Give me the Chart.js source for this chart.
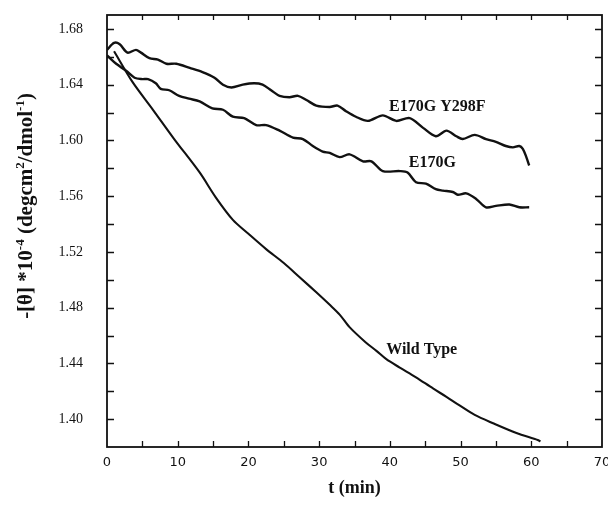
<!DOCTYPE html>
<html>
<head>
<meta charset="utf-8">
<script src="https://cdn.jsdelivr.net/npm/chart.js@4/dist/chart.umd.min.js"></script>
<style>
  html, body { margin: 0; padding: 0; background: #fff; }
  #wrap { width: 608px; height: 520px; }
</style>
</head>
<body>
<div id="wrap"><canvas id="cd"></canvas></div>
<script>
// Ellipticity decay at 222 nm, three enzyme variants
const mutant2Time = [0, 1.0, 1.8, 2.9, 4.1, 4.8, 6.0, 7.2, 8.4, 9.8, 11.7, 13.5, 15.2, 16.4, 17.6, 19.2, 20.8, 22.0, 23.2, 24.4, 25.8, 27.0, 28.2, 29.6, 31.5, 32.6, 33.8, 35.2, 36.9, 39.0, 40.9, 42.8, 44.7, 46.5, 48.0, 49.4, 50.3, 52.0, 53.6, 55.0, 56.4, 57.4, 58.3, 58.8, 59.3, 59.7];
const mutant2Theta = [1.665, 1.670, 1.669, 1.663, 1.665, 1.663, 1.659, 1.658, 1.655, 1.655, 1.652, 1.649, 1.645, 1.640, 1.638, 1.640, 1.641, 1.640, 1.636, 1.632, 1.631, 1.632, 1.629, 1.625, 1.624, 1.625, 1.621, 1.617, 1.614, 1.618, 1.614, 1.616, 1.609, 1.603, 1.607, 1.603, 1.601, 1.604, 1.601, 1.599, 1.596, 1.595, 1.596, 1.594, 1.588, 1.582];

const mutant1Time = [0, 1.3, 2.7, 3.9, 5.0, 5.8, 6.9, 7.6, 8.8, 10.2, 11.6, 13.1, 14.9, 16.4, 17.8, 19.4, 21.1, 22.5, 24.4, 26.3, 27.7, 29.1, 30.5, 31.5, 32.9, 34.3, 36.2, 37.4, 39.0, 41.4, 42.5, 43.7, 45.1, 46.5, 47.5, 48.9, 49.6, 50.8, 52.2, 53.6, 55.0, 56.9, 58.3, 59.7];
const mutant1Theta = [1.661, 1.655, 1.650, 1.645, 1.644, 1.644, 1.641, 1.637, 1.636, 1.632, 1.630, 1.628, 1.623, 1.622, 1.617, 1.616, 1.611, 1.611, 1.607, 1.602, 1.601, 1.596, 1.592, 1.591, 1.588, 1.590, 1.585, 1.585, 1.578, 1.578, 1.577, 1.570, 1.569, 1.565, 1.564, 1.563, 1.561, 1.562, 1.558, 1.552, 1.553, 1.554, 1.552, 1.552];

const wildTime = [1.0, 3.6, 6.5, 9.5, 13.1, 15.4, 17.8, 20.0, 22.5, 25.0, 27.2, 29.6, 31.5, 32.9, 34.3, 36.6, 38.1, 39.5, 41.4, 43.7, 46.1, 48.0, 49.8, 52.0, 54.6, 57.9, 60.9, 61.3];
const wildTheta = [1.664, 1.642, 1.622, 1.601, 1.577, 1.559, 1.543, 1.533, 1.522, 1.512, 1.502, 1.491, 1.482, 1.475, 1.466, 1.455, 1.449, 1.443, 1.437, 1.430, 1.422, 1.416, 1.410, 1.403, 1.397, 1.390, 1.385, 1.384];

const seriesNames = ['E170G Y298F', 'E170G', 'Wild Type'];
const xTickValues = [0, 10, 20, 30, 40, 50, 60, 70];
const yTickValues = [1.40, 1.44, 1.48, 1.52, 1.56, 1.60, 1.64, 1.68];

const toPoints = (ts, vs) => ts.map((t, i) => ({ x: t, y: vs[i] }));

// where each curve's name is written (data units)
const curveLabels = [
  { text: seriesNames[0], x: 46.7, y: 1.624 },
  { text: seriesNames[1], x: 46.0, y: 1.584 },
  { text: seriesNames[2], x: 44.5, y: 1.450 }
];

// y-axis title pieces: [text, isSuperscript]
const yTitleParts = [
  ['-[θ] *10', false], ['-4', true], [' (degcm', false], ['2', true],
  ['/dmol', false], ['-1', true], [')', false]
];

// frame with inward ticks on all four sides, curve names, y title
const framePlugin = {
  id: 'frame',
  afterDatasetsDraw(chart) {
    const { ctx, chartArea: a, scales: { x, y } } = chart;
    ctx.save();
    ctx.strokeStyle = '#111';
    ctx.lineWidth = 1.8;
    ctx.strokeRect(a.left, a.top, a.right - a.left, a.bottom - a.top);
    ctx.lineWidth = 1.3;
    ctx.beginPath();
    for (let t = 5; t < 70; t += 5) {
      const px = Math.round(x.getPixelForValue(t)) + 0.5;
      ctx.moveTo(px, a.bottom); ctx.lineTo(px, a.bottom - 6);
      ctx.moveTo(px, a.top); ctx.lineTo(px, a.top + 5);
    }
    for (let k = 0; k <= 14; k++) {
      const v = 1.40 + k * 0.02;
      const py = Math.round(y.getPixelForValue(v)) + 0.5;
      ctx.moveTo(a.left, py); ctx.lineTo(a.left + 7, py);
      ctx.moveTo(a.right, py); ctx.lineTo(a.right - 7, py);
    }
    ctx.stroke();

    ctx.fillStyle = '#111';
    ctx.font = 'bold 16px "Liberation Serif"';
    ctx.textAlign = 'center';
    ctx.textBaseline = 'middle';
    curveLabels.forEach(l => {
      ctx.fillText(l.text, x.getPixelForValue(l.x), y.getPixelForValue(l.y));
    });

    // rotated y-axis title with real superscripts
    const mainFont = 'bold 21px "Liberation Serif"';
    const supFont = 'bold 13px "Liberation Serif"';
    ctx.textAlign = 'left';
    ctx.textBaseline = 'alphabetic';
    let total = 0;
    const widths = yTitleParts.map(([t, sup]) => {
      ctx.font = sup ? supFont : mainFont;
      const w = ctx.measureText(t).width;
      total += w;
      return w;
    });
    ctx.translate(32, 206);
    ctx.rotate(-Math.PI / 2);
    let cx = -total / 2;
    yTitleParts.forEach(([t, sup], i) => {
      ctx.font = sup ? supFont : mainFont;
      ctx.fillText(t, cx, sup ? -8 : 0);
      cx += widths[i];
    });
    ctx.restore();
  }
};

const lineStyle = {
  borderColor: '#111',
  borderWidth: 2.4,
  pointRadius: 0,
  tension: 0.3,
  fill: false
};

new Chart(document.getElementById('cd'), {
  type: 'line',
  data: {
    datasets: [
      { label: seriesNames[0], data: toPoints(mutant2Time, mutant2Theta), ...lineStyle },
      { label: seriesNames[1], data: toPoints(mutant1Time, mutant1Theta), ...lineStyle },
      { label: seriesNames[2], data: toPoints(wildTime, wildTheta), ...lineStyle, borderWidth: 2.1 }
    ]
  },
  options: {
    responsive: true,
    maintainAspectRatio: false,
    animation: false,
    layout: { padding: { left: 0, right: 6, top: 15, bottom: 0 } },
    plugins: { legend: { display: false }, tooltip: { enabled: false } },
    scales: {
      x: {
        type: 'linear',
        min: 0, max: 70,
        grid: { display: false, drawTicks: false },
        border: { display: false },
        afterBuildTicks: s => { s.ticks = xTickValues.map(v => ({ value: v })); },
        ticks: {
          color: '#111',
          font: { family: '"DejaVu Sans"', size: 13 },
          padding: 8,
          maxRotation: 0,
          autoSkip: false
        },
        title: {
          display: true,
          text: 't (min)',
          color: '#111',
          font: { family: '"Liberation Serif"', size: 18, weight: 'bold' },
          padding: { top: 0, bottom: 21 }
        },
        afterFit: s => { s.height = 73; s.paddingLeft = 0; s.paddingRight = 0; }
      },
      y: {
        type: 'linear',
        min: 1.38, max: 1.69,
        grid: { display: false, drawTicks: false },
        border: { display: false },
        afterBuildTicks: s => { s.ticks = yTickValues.map(v => ({ value: v })); },
        ticks: {
          color: '#111',
          font: { family: '"Liberation Serif"', size: 14 },
          padding: 24,
          autoSkip: false,
          callback: v => v.toFixed(2)
        },
        title: { display: false },
        afterFit: s => { s.width = 107; s.paddingTop = 0; s.paddingBottom = 0; }
      }
    }
  },
  plugins: [framePlugin]
});
</script>
</body>
</html>
